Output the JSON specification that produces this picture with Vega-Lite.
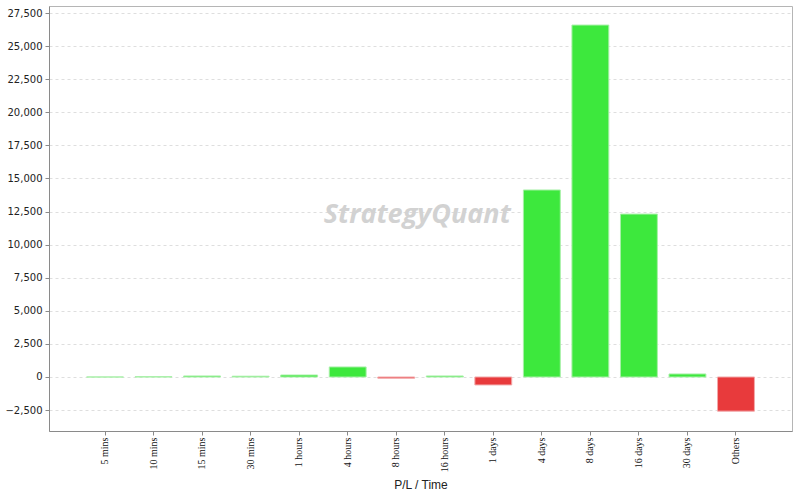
{
  "$schema": "https://vega.github.io/schema/vega-lite/v6.json",
  "autosize": {"type": "none"},
  "padding": {"left": 49, "top": 6, "right": 8, "bottom": 69},
  "width": 743,
  "height": 425,
  "background": "white",
  "config": {
    "view": {"stroke": "#b5b5b5", "strokeWidth": 1},
    "axis": {"domainColor": "#8a8a8a", "tickColor": "#8a8a8a", "tickSize": 4}
  },
  "data": {
    "values": [
      {"period": "5 mins", "pl": 0},
      {"period": "10 mins", "pl": 20},
      {"period": "15 mins", "pl": 80},
      {"period": "30 mins", "pl": 60},
      {"period": "1 hours", "pl": 150},
      {"period": "4 hours", "pl": 760},
      {"period": "8 hours", "pl": -90},
      {"period": "16 hours", "pl": 80},
      {"period": "1 days", "pl": -600},
      {"period": "4 days", "pl": 14130},
      {"period": "8 days", "pl": 26590},
      {"period": "16 days", "pl": 12310},
      {"period": "30 days", "pl": 230},
      {"period": "Others", "pl": -2580}
    ]
  },
  "encoding": {
    "x": {
      "field": "period",
      "type": "nominal",
      "sort": null,
      "title": "P/L / Time",
      "scale": {"paddingInner": 0.24, "paddingOuter": 0.774},
      "axis": {
        "labelAngle": -90,
        "labelFont": "Liberation Serif",
        "labelFontSize": 10,
        "labelColor": "#111",
        "labelPadding": 2,
        "titleFont": "Liberation Sans",
        "titleFontSize": 12,
        "titleFontWeight": "normal",
        "titleColor": "#222",
        "titlePadding": 8
      }
    },
    "y": {
      "field": "pl",
      "type": "quantitative",
      "title": null,
      "scale": {"domain": [-4080, 28030], "nice": false, "zero": false},
      "axis": {
        "values": [-2500, 0, 2500, 5000, 7500, 10000, 12500, 15000, 17500, 20000, 22500, 25000, 27500],
        "format": ",.0f",
        "labelFont": "DejaVu Sans",
        "labelFontSize": 10,
        "labelColor": "#222",
        "labelPadding": 3,
        "gridColor": "#dedede",
        "gridDash": [3, 3]
      }
    }
  },
  "layer": [
    {
      "mark": {"type": "bar", "strokeWidth": 1},
      "encoding": {
        "color": {
          "condition": {"test": "datum.pl >= 0", "value": "#3de83d"},
          "value": "#e83a3c"
        },
        "stroke": {
          "condition": {"test": "datum.pl >= 0", "value": "#a8f0a8"},
          "value": "#f2a9aa"
        }
      }
    },
    {
      "data": {"values": [{"brand": "StrategyQuant", "period": "8 hours", "pl": 12240}]},
      "mark": {
        "type": "text",
        "font": "Open Sans",
        "fontSize": 27,
        "fontWeight": "bold",
        "fontStyle": "italic",
        "color": "#d2d2d2",
        "align": "center",
        "baseline": "middle",
        "dx": 21
      },
      "encoding": {
        "text": {"field": "brand"}
      }
    }
  ]
}
